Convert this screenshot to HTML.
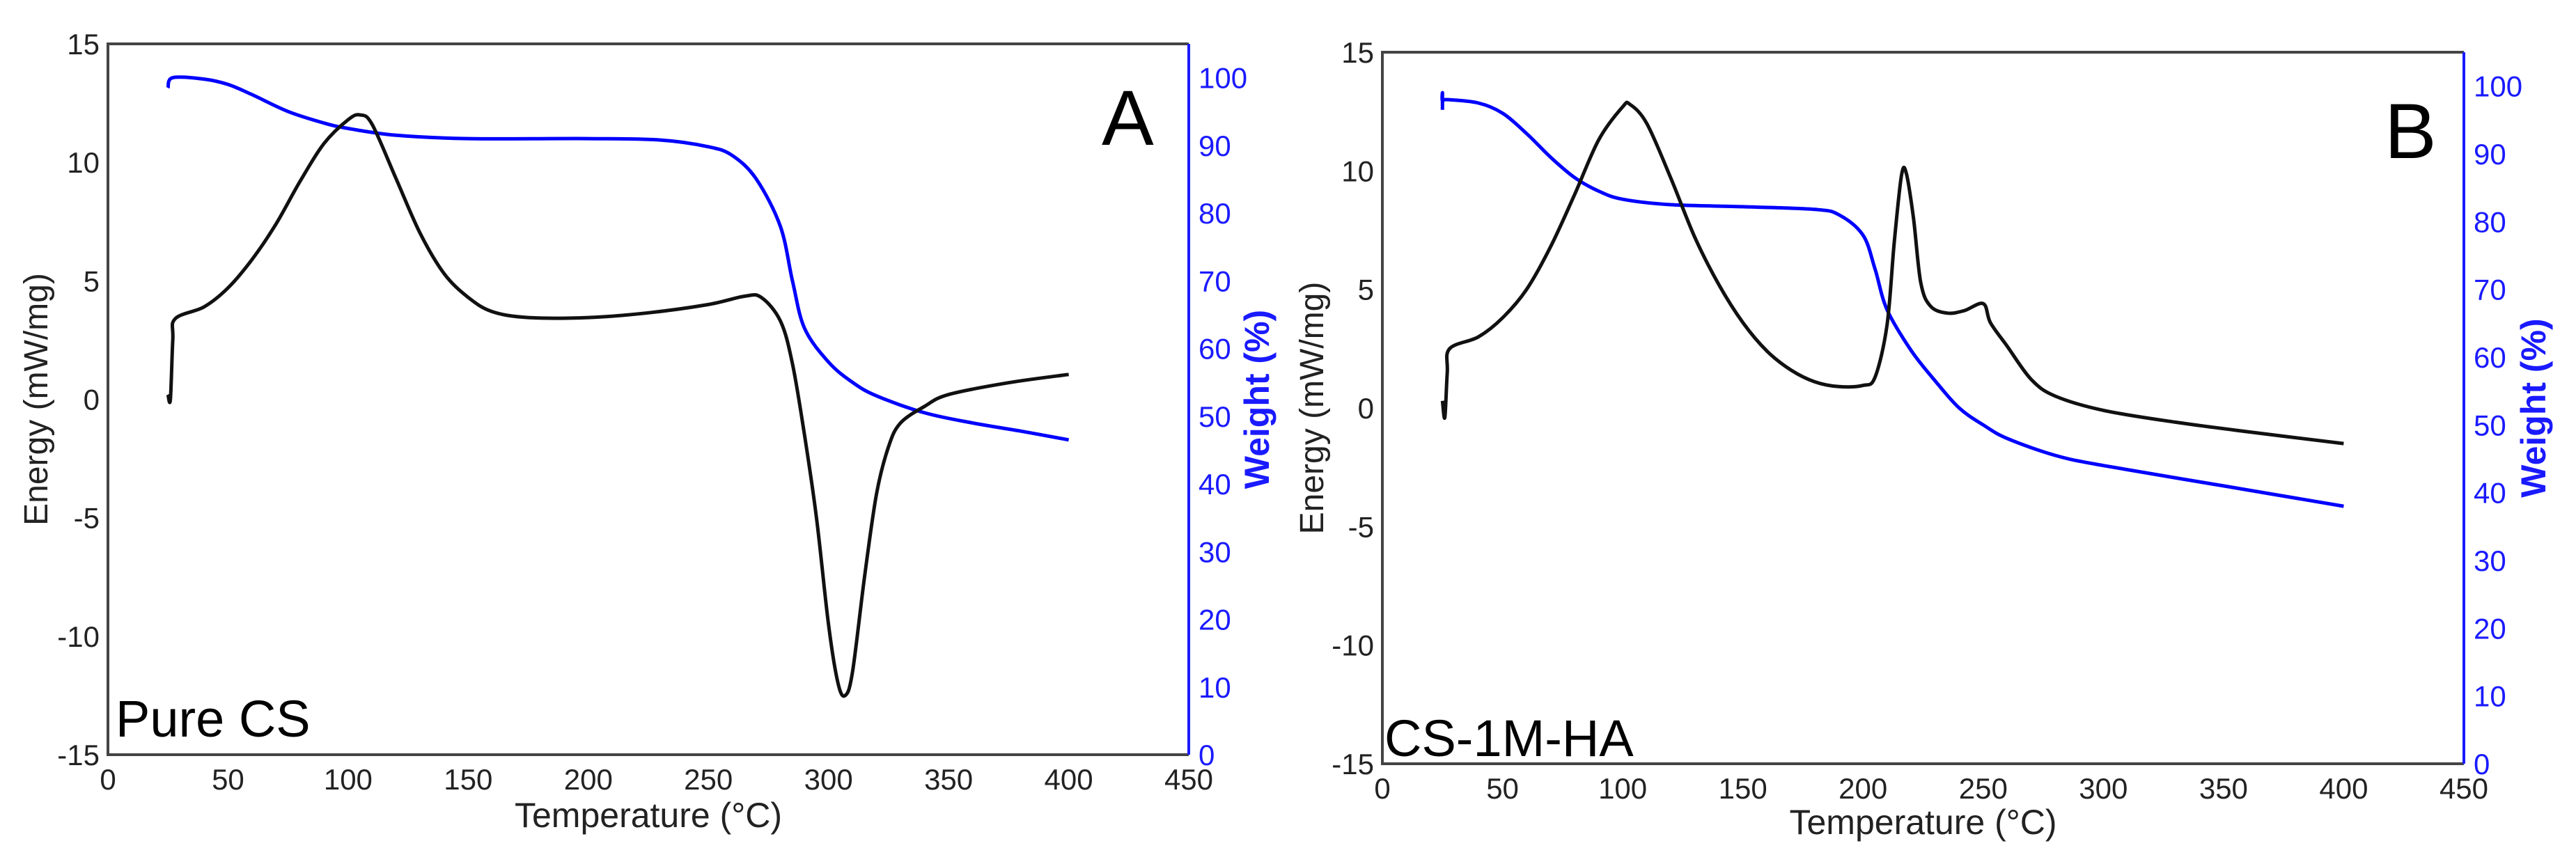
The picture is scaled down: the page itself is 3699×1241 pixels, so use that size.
<!DOCTYPE html>
<html><head><meta charset="utf-8"><style>
html,body{margin:0;padding:0;background:#fff;}
svg{display:block;font-family:"Liberation Sans",sans-serif;}
</style></head><body>
<svg id="fig" width="3699" height="1241" viewBox="0 0 3699 1241"></svg>
<script>
const xTicks=[0,50,100,150,200,250,300,350,400,450];
const eTicks=[-15,-10,-5,0,5,10,15];
const wTicks=[0,10,20,30,40,50,60,70,80,90,100];
const aEnergyT=[25,26,27,28,40,50,60,70,80,90,100,105,110,120,130,140,150,160,175,200,225,250,265,272,280,285,290,295,300,304,307,310,315,320,325,330,340,350,375,400];
const aEnergyV=[0.2,0,2.5,3.4,3.9,4.7,5.9,7.4,9.2,10.8,11.8,12.0,11.6,9.3,7.0,5.3,4.3,3.7,3.45,3.45,3.65,4.0,4.35,4.3,3.3,1.5,-1.5,-5,-9.5,-12,-12.5,-11.5,-7.5,-4,-2,-1,-0.3,0.2,0.7,1.05];
const aWeightT=[25,27,40,50,60,75,90,100,120,150,200,230,250,260,270,280,285,290,300,310,320,340,360,380,400];
const aWeightV=[98.5,100,99.8,99,97.5,95,93.3,92.5,91.5,91,91,90.8,89.8,88.5,85,78,70,63,58,55,53,50.5,49,47.8,46.5];
const bEnergyT=[25,26,27,28,40,50,60,70,80,90,100,103,110,120,130,140,150,160,170,180,190,200,205,210,213,216,218,221,224,228,235,242,250,253,260,270,280,300,330,360,400];
const bEnergyV=[0.3,-0.4,1.5,2.5,3.0,3.8,5.0,6.8,9.0,11.3,12.7,12.8,12.0,9.7,7.2,5.2,3.6,2.4,1.6,1.1,0.9,0.95,1.3,3.5,7,9.8,9.9,8,5.3,4.3,4.0,4.1,4.4,3.6,2.6,1.2,0.5,-0.1,-0.6,-1.0,-1.5];
const bWeightT=[25,25,25,27,40,50,60,70,80,90,100,120,150,180,190,200,205,210,220,230,240,250,260,280,300,350,400];
const bWeightV=[96.5,99,97.8,98,97.5,96,93,89.5,86.5,84.5,83.3,82.5,82.2,81.8,81,78,73,67,61,56.5,52.5,50,48,45.5,44,41,38];

const NS='http://www.w3.org/2000/svg';
const svg=document.getElementById('fig');
function mk(tag,attrs,parent){const e=document.createElementNS(NS,tag);for(const k in attrs)e.setAttribute(k,attrs[k]);(parent||svg).appendChild(e);return e;}

function smooth(pts){
  let d='M'+pts[0][0].toFixed(1)+','+pts[0][1].toFixed(1);
  for(let i=0;i<pts.length-1;i++){
    const p0=pts[Math.max(0,i-1)],p1=pts[i],p2=pts[i+1],p3=pts[Math.min(pts.length-1,i+2)];
    const c1=[p1[0]+(p2[0]-p0[0])/6,p1[1]+(p2[1]-p0[1])/6];
    const c2=[p2[0]-(p3[0]-p1[0])/6,p2[1]-(p3[1]-p1[1])/6];
    d+=` C${c1[0].toFixed(1)},${c1[1].toFixed(1)} ${c2[0].toFixed(1)},${c2[1].toFixed(1)} ${p2[0].toFixed(1)},${p2[1].toFixed(1)}`;
  }
  return d;
}

function panel(p){
  const g=mk('g',{});
  
  
  const X=t=>p.x0+(t-0)/450*(p.x1-p.x0);
  const YE=v=>p.y1-(v+15)/30*(p.y1-p.y0);
  const YW=v=>p.y1-v/105*(p.y1-p.y0);
  const fr=mk('path',{d:`M${p.x1},${p.y0} L${p.x0},${p.y0} L${p.x0},${p.y1} L${p.x1},${p.y1}`,fill:'none',stroke:'#444','stroke-width':4},g);
  
  
  const ra=mk('line',{x1:p.x1,y1:p.y0,x2:p.x1,y2:p.y1,stroke:'#1a1aff','stroke-width':4},g);
  
  
  xTicks.forEach(t=>{const tx=mk('text',{x:X(t),y:p.y1+50,'font-size':42,'text-anchor':'middle',fill:'#222'},g);tx.textContent=t;
    
    });
  eTicks.forEach(t=>{const tx=mk('text',{x:p.x0-12,y:YE(t)+15,'font-size':42,'text-anchor':'end',fill:'#222'},g);tx.textContent=t;
    
    });
  wTicks.forEach(t=>{const tx=mk('text',{x:p.x1+14,y:YW(t)+15,'font-size':42,'text-anchor':'start',fill:'#1a1aff'},g);tx.textContent=t;
    
    });
  const xt=mk('text',{x:(p.x0+p.x1)/2,y:p.xtY,'font-size':50,'text-anchor':'middle',fill:'#222'},g);xt.textContent='Temperature (°C)';
  
  
  const et=mk('text',{x:0,y:0,'font-size':48,'text-anchor':'middle',fill:'#222',transform:`translate(${p.etX},${(p.y0+p.y1)/2}) rotate(-90)`},g);et.textContent='Energy (mW/mg)';
  
  
  const wt=mk('text',{x:0,y:0,'font-size':50,'text-anchor':'middle',fill:'#1a1aff','font-weight':'bold',transform:`translate(${p.wtX},${(p.y0+p.y1)/2}) rotate(-90)`},g);wt.textContent='Weight (%)';
  
  
  const pts=(T,V,Y)=>T.map((t,i)=>[X(t),Y(V[i])]);
  const wl=mk('path',{d:smooth(pts(p.wT,p.wV,YW)),fill:'none',stroke:'#0000ff','stroke-width':5,'stroke-linejoin':'round'},g);
  
  
  const el=mk('path',{d:smooth(pts(p.eT,p.eV,YE)),fill:'none',stroke:'#111','stroke-width':5,'stroke-linejoin':'round'},g);
  
  
  const lb=mk('text',{x:p.lx,y:p.ly,'font-size':74,fill:'#000'},g);lb.textContent=p.label;
  
  
  const pl=mk('text',{x:p.px,y:p.py,'font-size':112,fill:'#000'},g);pl.textContent=p.letter;
  
  
}
panel({id:'a',x0:155,x1:1707,y0:63,y1:1084,xtY:1188,etX:68,wtX:1822,eT:aEnergyT,eV:aEnergyV,wT:aWeightT,wV:aWeightV,label:'Pure CS',lx:166,ly:1058,letter:'A',px:1582,py:208});
panel({id:'b',x0:1985,x1:3538,y0:75,y1:1097,xtY:1198,etX:1900,wtX:3655,eT:bEnergyT,eV:bEnergyV,wT:bWeightT,wV:bWeightV,label:'CS-1M-HA',lx:1988,ly:1086,letter:'B',px:3424,py:227});
</script>
</body></html>
